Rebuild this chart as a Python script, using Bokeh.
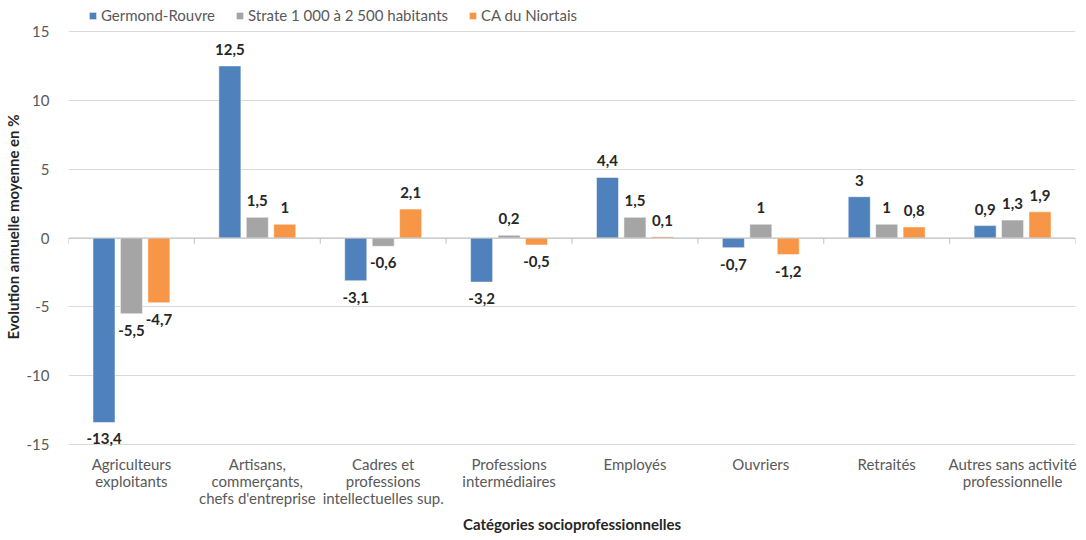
from bokeh.plotting import figure
from bokeh.models import (ColumnDataSource, Range1d, FixedTicker, Legend, LegendItem, Span)
from bokeh.embed import file_html
from bokeh.resources import INLINE
from bokeh.core.properties import value

categories = ["Agriculteurs\nexploitants",
              "Artisans,\ncommerçants,\nchefs d'entreprise",
              "Cadres et\nprofessions\nintellectuelles sup.",
              "Professions\nintermédiaires",
              "Employés",
              "Ouvriers",
              "Retraités",
              "Autres sans activité\nprofessionnelle"]
series_names = ["Germond-Rouvre", "Strate 1 000 à 2 500 habitants", "CA du Niortais"]
germond = [-13.4, 12.5, -3.1, -3.2, 4.4, -0.7, 3, 0.9]
strate = [-5.5, 1.5, -0.6, 0.2, 1.5, 1, 1, 1.3]
ca_niort = [-4.7, 1, 2.1, -0.5, 0.1, -1.2, 0.8, 1.9]
y_ticks = [-15, -10, -5, 0, 5, 10, 15]

colors = ["#4F81BD", "#A5A5A5", "#F79646"]
FONT = "Lato"
n = len(categories)

# frame from y=5 to y=448 px; 15 sits at 31 px, -15 at 444 px -> headroom for legend
p = figure(width=1078, height=536, output_backend="svg", toolbar_location=None,
           x_range=Range1d(0, n), y_range=Range1d(-15.29, 16.89),
           min_border_left=67, min_border_right=3, min_border_top=5, min_border_bottom=88)
p.outline_line_color = None
p.background_fill_color = "white"

# grid
p.xgrid.grid_line_color = None
p.ygrid.grid_line_color = "#D9D9D9"
p.ygrid.grid_line_width = 1
p.ygrid.ticker = FixedTicker(ticks=y_ticks)

# y axis
p.yaxis.ticker = FixedTicker(ticks=y_ticks)
p.yaxis.major_label_overrides = {t: str(t) for t in y_ticks}
p.yaxis.axis_line_color = None
p.yaxis.major_tick_line_color = None
p.yaxis.minor_tick_line_color = None
p.yaxis.major_label_text_font = FONT
p.yaxis.major_label_text_font_size = "15px"
p.yaxis.major_label_text_color = "#595959"
p.yaxis.major_label_standoff = 13
p.yaxis.axis_label = "Evolution annuelle moyenne en %"
p.yaxis.axis_label_text_font = FONT
p.yaxis.axis_label_text_font_size = "15px"
p.yaxis.axis_label_text_font_style = "bold"
p.yaxis.axis_label_text_color = "#262626"
p.yaxis.axis_label_standoff = 2

# x axis
centers = [i + 0.5 for i in range(n)]
p.xaxis.ticker = FixedTicker(ticks=centers)
p.xaxis.major_label_overrides = {c: lab for c, lab in zip(centers, categories)}
p.xaxis.axis_line_color = None
p.xaxis.major_tick_line_color = None
p.xaxis.minor_tick_line_color = None
p.xaxis.major_label_text_font = FONT
p.xaxis.major_label_text_font_size = "15px"
p.xaxis.major_label_text_color = "#595959"
p.xaxis.major_label_text_line_height = 0.95
p.xaxis.major_label_standoff = 0
p.xaxis.axis_label = "Catégories socioprofessionnelles"
p.xaxis.axis_label_text_font = FONT
p.xaxis.axis_label_text_font_size = "15px"
p.xaxis.axis_label_text_font_style = "bold"
p.xaxis.axis_label_text_color = "#262626"
p.xaxis.axis_label_standoff = 5

# zero line + category boundary ticks
p.add_layout(Span(location=0, dimension="width", line_color="#BFBFBF", line_width=1))
bounds = list(range(n + 1))
p.segment(x0=bounds, y0=[0] * len(bounds), x1=bounds, y1=[-0.42] * len(bounds),
          line_color="#BFBFBF", line_width=1)

offsets = [-0.218, 0.0, 0.218]
bar_w = 0.175
renderers = []
for vals, off, col in zip([germond, strate, ca_niort], offsets, colors):
    xs = [c + off for c in centers]
    src = ColumnDataSource(dict(x=xs, top=vals))
    r = p.vbar(x="x", top="top", bottom=0, width=bar_w, source=src,
               fill_color=col, line_color="white", line_width=0.5)
    renderers.append(r)
    labels = [f"{v:g}".replace(".", ",") for v in vals]
    pos = [(x, v, l) for x, v, l in zip(xs, vals, labels) if v >= 0]
    neg = [(x, v, l) for x, v, l in zip(xs, vals, labels) if v < 0]
    if pos:
        p.text(x=[a[0] for a in pos], y=[a[1] for a in pos], text=[a[2] for a in pos],
               text_align="center", text_baseline="bottom", y_offset=-11,
               text_font=value(FONT), text_font_size="15px", text_font_style="bold",
               text_color="#262626")
    if neg:
        p.text(x=[a[0] for a in neg], y=[a[1] for a in neg], text=[a[2] for a in neg],
               text_align="center", text_baseline="top", y_offset=11,
               text_font=value(FONT), text_font_size="15px", text_font_style="bold",
               text_color="#262626")

legend = Legend(items=[LegendItem(label=nm, renderers=[r]) for nm, r in zip(series_names, renderers)],
                location=(20, 424), orientation="horizontal",
                glyph_width=9, glyph_height=9, label_standoff=4, spacing=20,
                padding=0, margin=0, background_fill_alpha=0, border_line_alpha=0,
                label_text_font=FONT, label_text_font_size="15px", label_text_color="#595959",
                label_height=18)
p.add_layout(legend, "center")

open("out.html", "w").write(file_html(p, INLINE))
